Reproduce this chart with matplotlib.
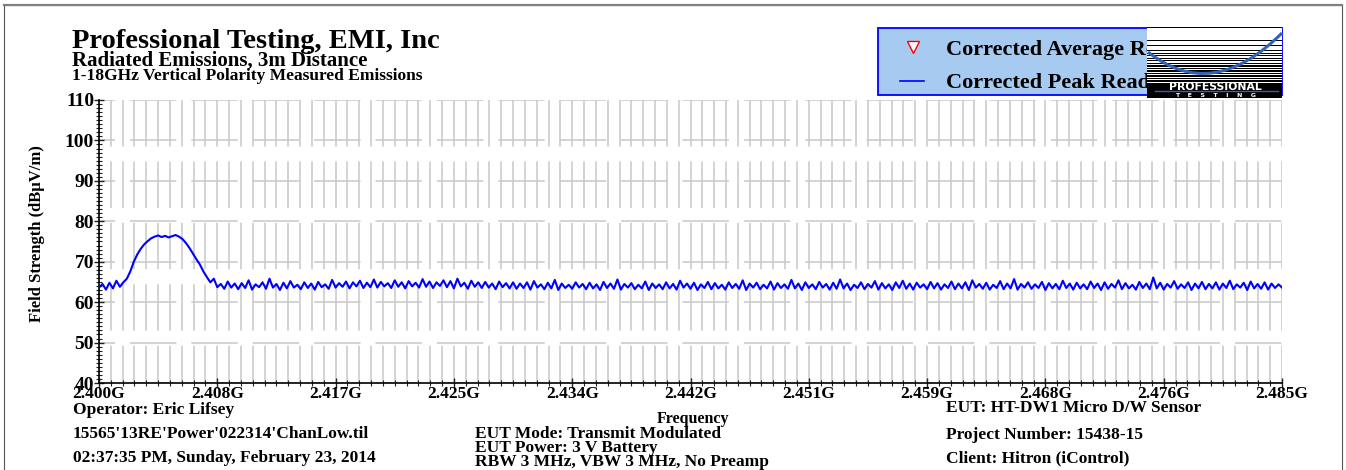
import numpy as np
import matplotlib
matplotlib.use("Agg")
import matplotlib.pyplot as plt
from matplotlib.patches import Rectangle, PathPatch
from matplotlib.lines import Line2D
from matplotlib.path import Path
from matplotlib.ticker import AutoMinorLocator, MultipleLocator

plt.rcParams["font.family"] = ["Liberation Serif", "DejaVu Serif"]
plt.rcParams["font.weight"] = "bold"
plt.rcParams["axes.labelweight"] = "bold"
plt.rcParams["lines.scale_dashes"] = False

# Corrected peak reading, 2.400 - 2.485 GHz sweep, one value every 0.25 MHz (dBuV/m)
peak_dbuv = [
    63.6, 64.5, 63.1, 64.8, 63.4, 65.3, 63.8, 64.9, 65.8, 67.6, 70.0, 71.8, 73.2, 74.3, 75.1, 75.8, 76.2, 76.5, 76.1, 76.4,
    76.0, 76.3, 76.6, 76.2, 75.6, 74.6, 73.4, 72.0, 70.6, 69.3, 67.6, 66.2, 64.9, 65.8, 63.7, 64.5, 63.3, 65.1, 63.6, 64.6,
    63.2, 64.7, 63.5, 65.4, 63.1, 64.4, 63.7, 64.9, 63.3, 65.8, 63.6, 64.5, 63.0, 64.8, 63.4, 65.2, 63.6, 64.3, 63.2, 64.9,
    63.5, 64.6, 63.1, 65.0, 63.7, 64.4, 63.3, 65.5, 63.6, 64.7, 63.8, 65.1, 63.4, 64.9, 63.9, 65.3, 63.5, 64.8, 63.7, 65.6,
    63.6, 65.0, 63.9, 64.7, 63.5, 65.4, 63.8, 64.9, 63.4, 65.2, 63.9, 64.8, 63.6, 65.7, 63.8, 65.1, 63.5, 64.9, 64.0, 65.4,
    63.7, 65.2, 63.4, 65.8, 63.9, 64.8, 63.3, 65.3, 63.8, 64.9, 63.5, 65.0, 63.6, 64.6, 63.2, 65.1, 63.7, 64.7, 63.4, 64.9,
    63.3, 64.6, 63.5, 64.9, 63.1, 65.2, 63.6, 64.4, 63.2, 64.8, 63.4, 65.5, 63.0, 64.6, 63.5, 64.3, 63.3, 64.9, 63.6, 64.5,
    63.2, 64.8, 63.4, 64.4, 63.0, 65.0, 63.5, 64.6, 63.3, 65.6, 63.1, 64.5, 63.6, 64.7, 63.2, 64.3, 63.4, 65.1, 63.0, 64.6,
    63.5, 64.4, 63.2, 64.9, 63.4, 64.5, 63.1, 65.3, 63.6, 64.6, 63.3, 64.8, 63.0, 64.4, 63.5, 65.0, 63.2, 64.7, 63.4, 64.3,
    63.1, 64.9, 63.5, 64.5, 63.3, 65.4, 63.0, 64.6, 63.6, 64.8, 63.2, 64.3, 63.4, 65.1, 63.1, 64.7, 63.5, 64.4, 63.3, 65.5,
    63.4, 64.6, 63.0, 64.9, 63.5, 64.4, 63.2, 65.0, 63.6, 64.5, 63.1, 64.8, 63.3, 65.6, 63.4, 64.6, 63.0, 64.3, 63.5, 64.9,
    63.2, 64.5, 63.6, 65.2, 63.1, 64.7, 63.4, 64.4, 63.0, 64.9, 63.5, 65.3, 63.3, 64.6, 63.1, 64.8, 63.6, 64.4, 63.2, 65.0,
    63.4, 64.7, 63.1, 64.4, 63.5, 65.1, 63.2, 64.6, 63.4, 64.9, 63.0, 65.4, 63.6, 64.5, 63.3, 64.8, 63.1, 64.3, 63.5, 65.2,
    63.2, 64.6, 63.4, 65.7, 63.1, 64.5, 63.6, 64.9, 63.3, 64.4, 63.5, 65.0, 63.0, 64.7, 63.4, 64.5, 63.2, 65.3, 63.5, 64.6,
    63.1, 64.8, 63.4, 64.4, 63.2, 65.1, 63.5, 64.6, 63.0, 64.9, 63.3, 64.5, 63.6, 65.4, 63.2, 64.7, 63.4, 64.3, 63.1, 65.0,
    63.5, 64.6, 63.2, 66.1, 63.4, 64.8, 63.1, 64.5, 63.6, 65.2, 63.3, 64.4, 63.5, 64.9, 63.0, 64.6, 63.4, 65.0, 63.2, 64.5,
    63.4, 64.9, 63.1, 64.6, 63.5, 65.3, 63.2, 64.4, 63.6, 64.8, 63.0, 65.1, 63.4, 64.5, 63.3, 64.9, 63.1, 64.6, 63.5, 64.4,
    63.6,
]
f_start, f_stop = 2.400, 2.485  # GHz
freq_ghz = np.linspace(f_start, f_stop, len(peak_dbuv))

freq_tick_labels = ["2.400G", "2.408G", "2.417G", "2.425G", "2.434G", "2.442G",
                    "2.451G", "2.459G", "2.468G", "2.476G", "2.485G"]
level_ticks = [40, 50, 60, 70, 80, 90, 100, 110]

W, H = 1346, 470


def fx(px):
    return px / W


def fy(py):
    return 1 - py / H


fig = plt.figure(figsize=(W / 100, H / 100), dpi=100)
fig.patch.set_facecolor("white")

# outer frame of the report page
fig.add_artist(Rectangle((fx(4), fy(480)), fx(1342) - fx(4), fy(5) - fy(480),
                         transform=fig.transFigure, fill=False, ec="#555555", lw=0.8))
fig.add_artist(Line2D([fx(4), fx(1342)], [fy(4.5), fy(4.5)], transform=fig.transFigure,
                      color="#808080", lw=1.6))

ax = fig.add_axes([fx(99), fy(383), 1183 / W, 283 / H])
ax.plot(freq_ghz, peak_dbuv, color="#0000ff", lw=1.5, zorder=3)

ax.set_xlim(f_start, f_stop)
ax.set_ylim(40, 110)
ax.set_xticks(np.linspace(f_start, f_stop, len(freq_tick_labels)), freq_tick_labels)
ax.set_yticks(level_ticks)
ax.xaxis.set_minor_locator(AutoMinorLocator(10))
ax.yaxis.set_minor_locator(MultipleLocator(1))

for s in ["top", "right"]:
    ax.spines[s].set_visible(False)
for s in ["left", "bottom"]:
    ax.spines[s].set_linewidth(1.2)

ax.tick_params(which="major", direction="inout", length=7, width=1.0, color="#222222")
ax.tick_params(which="minor", direction="inout", length=4.5, width=0.8, color="#222222")
ax.tick_params(axis="y", which="major", labelsize=14, pad=0)
ax.tick_params(axis="x", which="major", labelsize=12.5, pad=-1.5)

# broken grid: minor verticals, major horizontals, same dashed pen
ax.set_axisbelow(True)
ax.grid(which="both", axis="x", color="#c8c8c8", lw=1.1, linestyle=(6.5, (33.4, 10.8)))
ax.grid(which="major", axis="y", color="#c8c8c8", lw=1.1, linestyle=(21.9, (33.4, 10.8)))

ax.set_ylabel("Field Strength (dBμV/m)", fontsize=12)
ax.yaxis.set_label_coords(-0.0455, 0.527)
ax.set_xlabel("Frequency", fontsize=11.5)
ax.xaxis.set_label_coords(0.502, -0.099)

# header
fig.text(fx(72), fy(48.5), "Professional Testing, EMI, Inc", fontsize=20.5, va="baseline")
fig.text(fx(72), fy(66), "Radiated Emissions, 3m Distance", fontsize=15, va="baseline")
fig.text(fx(72), fy(80.5), "1-18GHz Vertical Polarity Measured Emissions", fontsize=12.5, va="baseline")

# legend box
fig.add_artist(Rectangle((fx(878), fy(95)), fx(1282) - fx(878), fy(28) - fy(95),
                         transform=fig.transFigure, fc="#a6caf0", ec="#0000ff", lw=1.3))
fig.add_artist(Line2D([fx(912.5)], [fy(46.5)], transform=fig.transFigure, marker="v",
                      ms=9, mfc="white", mec="#ff0000", mew=1.0, ls="none"))
fig.add_artist(Line2D([fx(900), fx(924)], [fy(81), fy(81)], transform=fig.transFigure,
                      color="#0000ff", lw=1.2))
fig.text(fx(946), fy(55), "Corrected Average Reading", fontsize=16, va="baseline")
fig.text(fx(946), fy(88), "Corrected Peak Reading", fontsize=16, va="baseline")

# company logo
fig.add_artist(Rectangle((fx(1147), fy(98)), fx(1282) - fx(1147), fy(27) - fy(98),
                         transform=fig.transFigure, fc="black", ec="none", zorder=5))
n_stripes = 22
for i in range(n_stripes):
    top = 27.5 + i * 2.6
    white = 2.2 * (1 - i / n_stripes) + 0.3
    fig.add_artist(Rectangle((fx(1147), fy(top + white)), fx(1282) - fx(1147), fy(top) - fy(top + white),
                             transform=fig.transFigure, fc="white", ec="none", zorder=6))
arc = Path([(fx(1148), fy(52)), (fx(1212), fy(103)), (fx(1282), fy(33))],
           [Path.MOVETO, Path.CURVE3, Path.CURVE3])
fig.add_artist(PathPatch(arc, transform=fig.transFigure, fill=False, ec="#2f63b5", lw=2.2, zorder=7))
fig.add_artist(Line2D([fx(1155), fx(1278)], [fy(90.5), fy(90.5)], transform=fig.transFigure,
                      color="#2f63b5", lw=1.0, zorder=7))
fig.text(fx(1215), fy(86.5), "PROFESSIONAL", family="DejaVu Sans", fontsize=7.8, color="white",
         ha="center", va="center", zorder=8)
fig.text(fx(1216), fy(95.5), "T    E    S    T    I    N    G", family="DejaVu Sans", fontsize=4.5,
         color="white", ha="center", va="center", zorder=8)

# footer
fig.text(fx(73), fy(414.5), "Operator: Eric Lifsey", fontsize=12.5, va="baseline")
fig.text(fx(73), fy(438), "15565'13RE'Power'022314'ChanLow.til", fontsize=12.5, va="baseline")
fig.text(fx(73), fy(462), "02:37:35 PM, Sunday, February 23, 2014", fontsize=12.5, va="baseline")
fig.text(fx(475), fy(438), "EUT Mode: Transmit Modulated", fontsize=12.5, va="baseline")
fig.text(fx(475), fy(451.5), "EUT Power: 3 V Battery", fontsize=12.5, va="baseline")
fig.text(fx(475), fy(465.5), "RBW 3 MHz, VBW 3 MHz, No Preamp", fontsize=12.5, va="baseline")
fig.text(fx(946), fy(412), "EUT: HT-DW1 Micro D/W Sensor", fontsize=12.5, va="baseline")
fig.text(fx(946), fy(439), "Project Number: 15438-15", fontsize=12.5, va="baseline")
fig.text(fx(946), fy(462.5), "Client: Hitron (iControl)", fontsize=12.5, va="baseline")

fig.savefig("out.png", dpi=100)
